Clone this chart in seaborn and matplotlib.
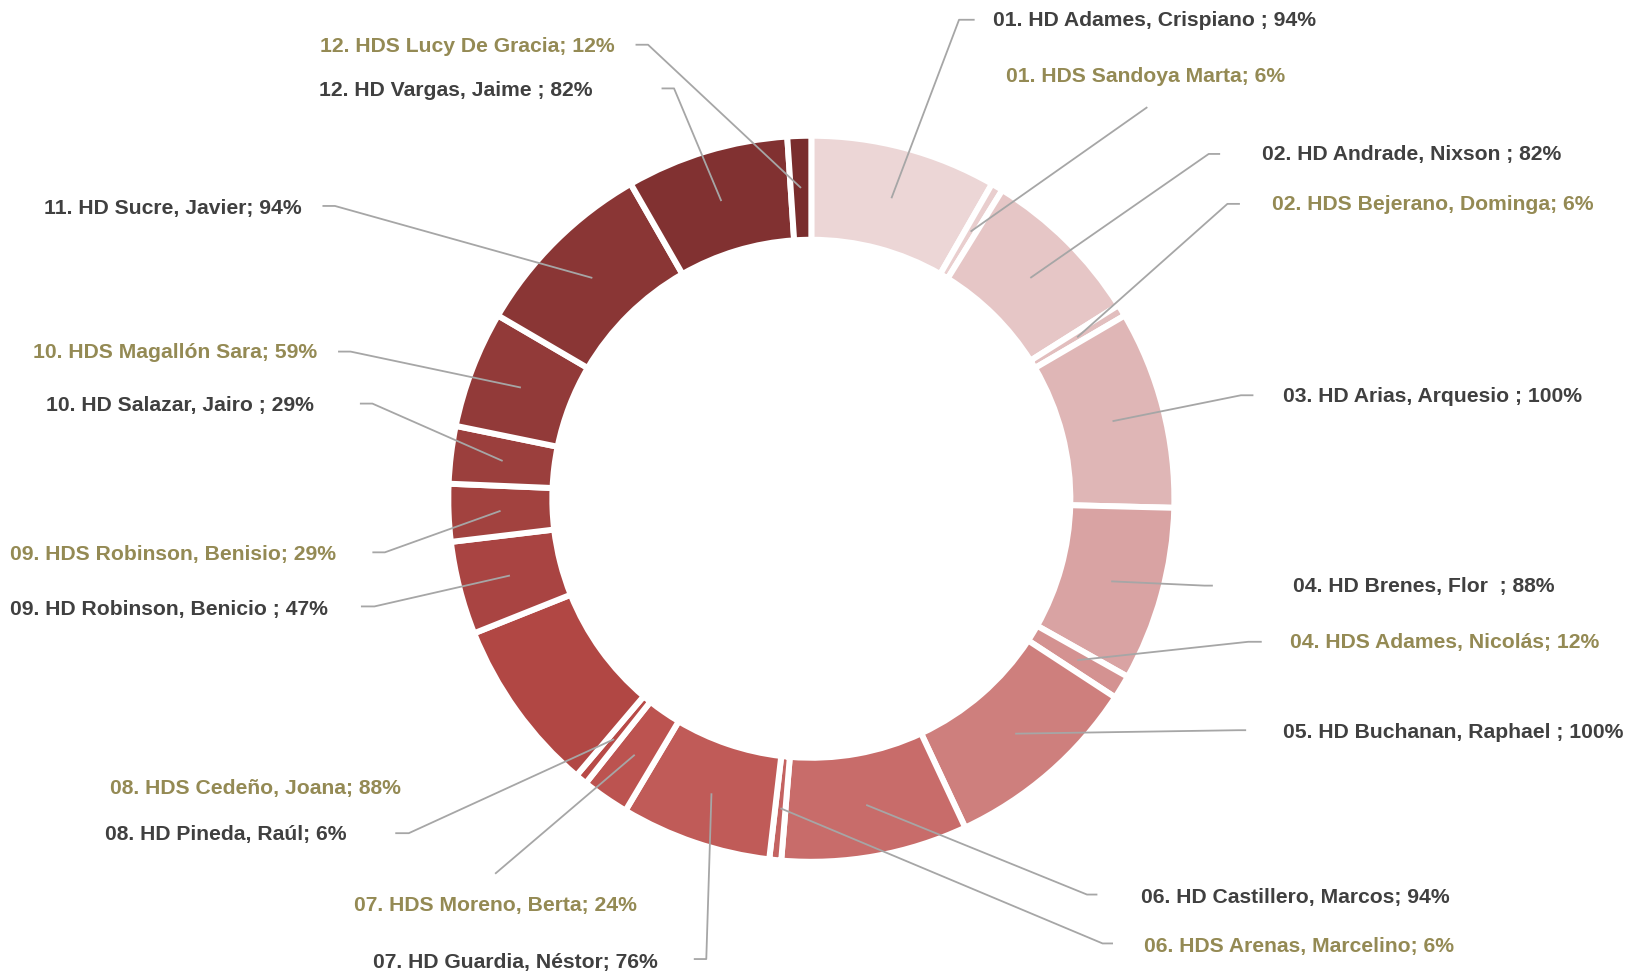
import matplotlib
matplotlib.use("Agg")
import matplotlib.pyplot as plt
import numpy as np
import seaborn as sns

# ---------------- data ----------------
names = [
    "01. HD Adames, Crispiano ", "01. HDS Sandoya Marta",
    "02. HD Andrade, Nixson ", "02. HDS Bejerano, Dominga",
    "03. HD Arias, Arquesio ",
    "04. HD Brenes, Flor  ", "04. HDS Adames, Nicolás",
    "05. HD Buchanan, Raphael ",
    "06. HD Castillero, Marcos", "06. HDS Arenas, Marcelino",
    "07. HD Guardia, Néstor", "07. HDS Moreno, Berta",
    "08. HD Pineda, Raúl", "08. HDS Cedeño, Joana",
    "09. HD Robinson, Benicio ", "09. HDS Robinson, Benisio",
    "10. HD Salazar, Jairo ", "10. HDS Magallón Sara",
    "11. HD Sucre, Javier",
    "12. HD Vargas, Jaime ", "12. HDS Lucy De Gracia",
]
values = [94, 6, 82, 6, 100, 88, 12, 100, 94, 6, 76, 24, 6, 88, 47, 29, 29, 59, 94, 82, 12]
roles = ["HD", "HDS", "HD", "HDS", "HD", "HD", "HDS", "HD", "HD", "HDS", "HD", "HDS",
         "HD", "HDS", "HD", "HDS", "HD", "HDS", "HD", "HD", "HDS"]

# ---------------- layout (reference pixel positions, scaled) ----------------
W, H = 1631, 972
S = 1631 / 1568
# text anchor: (x, y, ha)
text_pos = [
    (955, 20, "left"), (967, 74, "left"),
    (1213, 149, "left"), (1223, 197, "left"),
    (1233, 381, "left"),
    (1243, 564, "left"), (1240, 618, "left"),
    (1233, 704, "left"),
    (1097, 863, "left"), (1100, 910, "left"),
    (632, 925, "right"), (612, 871, "right"),
    (333, 802, "right"), (385, 758, "right"),
    (315, 586, "right"), (323, 533, "right"),
    (302, 390, "right"), (305, 339, "right"),
    (290, 200, "right"),
    (570, 87, "right"), (591, 45, "right"),
]
# leader line bend and end points (None = no leader)
leader = [
    ((922, 19), (937, 19)), ((1103, 103), (1103, 103)),
    ((1162, 148), (1173, 148)), ((1180, 196), (1192, 196)),
    ((1193, 380), (1205, 380)),
    ((1158, 563), (1166, 563)), ((1200, 617), (1213, 617)),
    ((1190, 702), (1198, 702)),
    ((1045, 860), (1055, 860)), ((1060, 907), (1070, 907)),
    ((679, 922), (667, 922)), ((476, 840), (476, 840)),
    ((393, 801), (380, 801)), None,
    ((360, 583), (347, 583)), ((370, 531), (358, 531)),
    ((358, 388), (346, 388)), ((337, 338), (325, 338)),
    ((322, 198), (310, 198)),
    ((648, 85), (636, 85)), ((623, 43), (611, 43)),
]

sns.set_theme(style="white")
plt.rcParams['font.family'] = ['Liberation Sans', 'DejaVu Sans']

palette = sns.blend_palette(["#ecd6d6", "#dfb6b6", "#c86c6a", "#b84a47", "#9b3f3d", "#792d2d"],
                            n_colors=len(values))
text_colors = {"HD": "#404040", "HDS": "#948a54"}

fig = plt.figure(figsize=(W / 100, H / 100), dpi=100)
ax = fig.add_axes([0, 0, 1, 1])

cx, cy = 780 * S, H - 479.5 * S
R_out = 349 * S
ring = 100 * S
wedges, _ = ax.pie(values, colors=palette, startangle=90, counterclock=False,
                   radius=R_out, center=(cx, cy),
                   wedgeprops=dict(width=ring, edgecolor="white", linewidth=4.3))
ax.set_xlim(0, W)
ax.set_ylim(0, H)
ax.set_aspect("auto")
ax.axis("off")

r_mid = R_out - ring / 2
for w, name, v, role, (tx, ty, ha), ld in zip(wedges, names, values, roles, text_pos, leader):
    ax.text(tx * S, H - ty * S, f"{name}; {v}%", ha=ha, va="center",
            fontsize=15.2, fontweight="bold", color=text_colors[role])
    if ld is None:
        continue
    th = np.deg2rad((w.theta1 + w.theta2) / 2)
    px, py = cx + r_mid * np.cos(th), cy + r_mid * np.sin(th)
    (bx, by), (ex, ey) = ld
    ax.plot([px, bx * S, ex * S], [py, H - by * S, H - ey * S],
            color="#a6a6a6", lw=1.3, solid_capstyle="butt")

fig.savefig("out.png", dpi=100, facecolor="white")
